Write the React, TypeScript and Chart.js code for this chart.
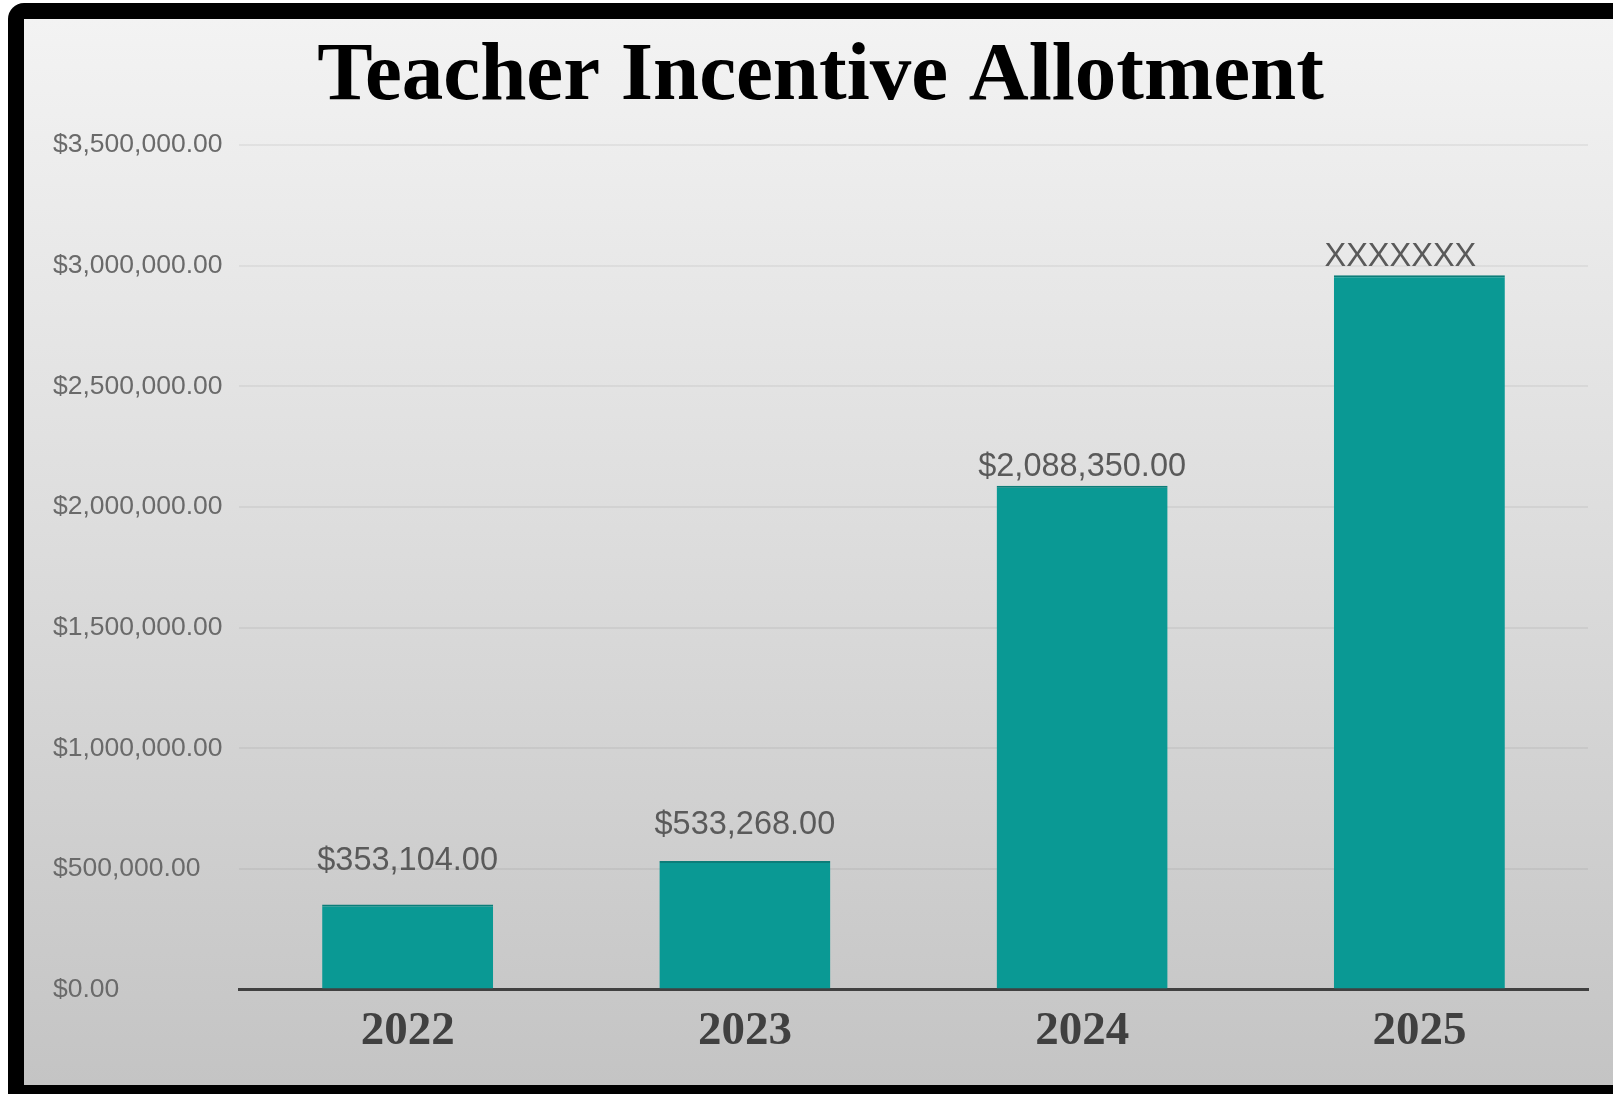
import React, { useEffect, useRef } from "react";
import { Chart, registerables } from "chart.js";

Chart.register(...registerables);

const categories = ["2022", "2023", "2024", "2025"];
const values = [353104, 533268, 2088350, 2960000];
const barLabels = ["$353,104.00", "$533,268.00", "$2,088,350.00", "XXXXXXX"];
const titleText = "Teacher Incentive Allotment";
const yMax = 3500000;
const yStep = 500000;

const labelOffsetsY = [43, 36, 19, 18];
const labelOffsetsX = [0, 0, 0, -19];

const W = 1613;
const H = 1094;

const framePlugin = {
  id: "frame",
  beforeDraw(chart: any) {
    const ctx = chart.ctx;
    ctx.save();
    ctx.fillStyle = "#ffffff";
    ctx.fillRect(0, 0, W, H);
    ctx.fillStyle = "#000000";
    ctx.beginPath();
    (ctx as any).roundRect(8, 3, W + 30, H + 30, 16);
    ctx.fill();
    const g = ctx.createLinearGradient(0, 19, 0, 1085);
    g.addColorStop(0, "#f3f3f3");
    g.addColorStop(0.5, "#dcdcdc");
    g.addColorStop(1, "#c4c4c4");
    ctx.fillStyle = g;
    ctx.fillRect(24, 19, W - 24, 1085 - 19);
    ctx.restore();
  },
};

const barLabelPlugin = {
  id: "barLabels",
  afterDatasetsDraw(chart: any) {
    const ctx = chart.ctx;
    const meta = chart.getDatasetMeta(0);
    ctx.save();
    ctx.font = "32.5px 'Liberation Sans', Arial, sans-serif";
    ctx.fillStyle = "#5a5a5a";
    ctx.textAlign = "center";
    ctx.textBaseline = "middle";
    meta.data.forEach((bar: any, i: number) => {
      ctx.fillText(barLabels[i], bar.x + labelOffsetsX[i], bar.y - labelOffsetsY[i]);
    });
    ctx.restore();
  },
};

export default function App() {
  const ref = useRef<HTMLCanvasElement | null>(null);

  useEffect(() => {
    document.body.style.margin = "0";
    const canvas = ref.current!;
    const chart = new Chart(canvas, {
      type: "bar",
      data: {
        labels: categories,
        datasets: [
          {
            data: values,
            backgroundColor: "#0a9994",
            borderColor: "#0b7d79",
            borderWidth: { top: 2, left: 0, right: 0, bottom: 0 },
            borderSkipped: false,
            categoryPercentage: 1,
            barPercentage: 0.507,
          },
        ],
      },
      options: {
        responsive: false,
        animation: false,
        layout: { padding: { left: 53, right: 25, top: 0, bottom: 20 } },
        plugins: {
          legend: { display: false },
          tooltip: { enabled: false },
          title: {
            display: true,
            text: titleText,
            color: "#000000",
            font: { family: "'Liberation Serif', 'Times New Roman', serif", size: 83, weight: "bold", lineHeight: 1 },
            padding: { top: 36, bottom: 26 },
          },
        },
        scales: {
          x: {
            grid: { display: false, drawTicks: false },
            border: { display: true, color: "#404040", width: 3 },
            ticks: {
              color: "#404040",
              padding: 14,
              font: { family: "'Liberation Serif', 'Times New Roman', serif", size: 47, weight: "bold" },
            },
          },
          y: {
            min: 0,
            max: yMax,
            grid: { color: "rgba(0,0,0,0.05)", lineWidth: 2, drawTicks: false },
            border: { display: false },
            ticks: {
              stepSize: yStep,
              crossAlign: "far",
              color: "#6a6a6a",
              font: { family: "'Liberation Sans', Arial, sans-serif", size: 26.5 },
              callback: (v: any) =>
                "$" + Number(v).toLocaleString("en-US", { minimumFractionDigits: 2, maximumFractionDigits: 2 }),
            },
            afterFit(scale: any) {
              scale.width = 186;
            },
          },
        },
      },
      plugins: [framePlugin, barLabelPlugin],
    });
    return () => chart.destroy();
  }, []);

  return (
    <div style={{ position: "absolute", left: 0, top: 0, width: W, height: H }}>
      <canvas ref={ref} width={W} height={H} style={{ display: "block", width: W, height: H }} />
    </div>
  );
}
